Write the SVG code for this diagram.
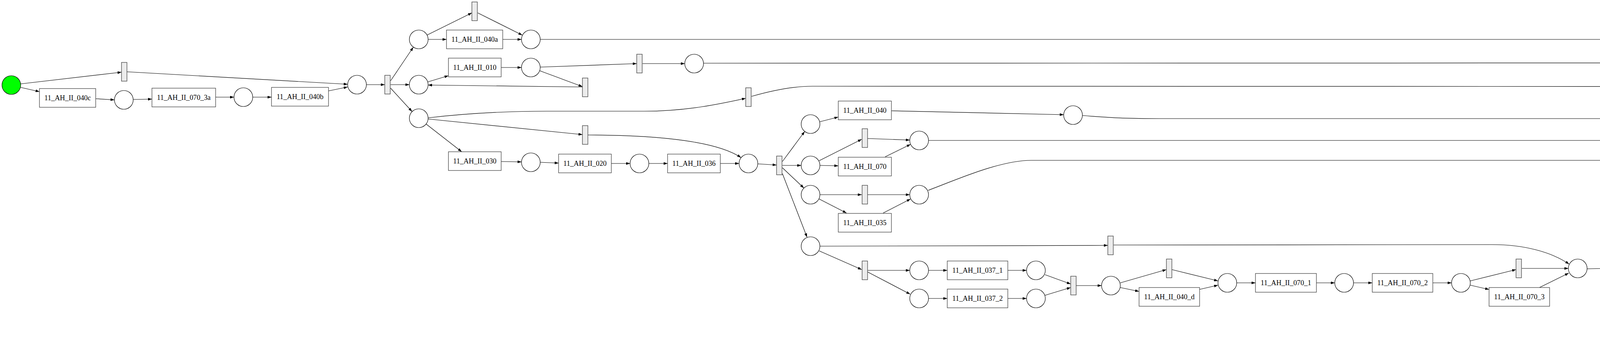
<svg xmlns="http://www.w3.org/2000/svg" width="6175" height="892" viewBox="0 0 6175 892">
<defs>
<marker id="ah" viewBox="0 0 10 7" refX="10" refY="3.5" markerWidth="10" markerHeight="7" markerUnits="userSpaceOnUse" orient="auto"><path d="M0,0 L10,3.5 L0,7 z" fill="#000"/></marker>
<style>
.e{fill:none;stroke:#000;stroke-width:1.2;marker-end:url(#ah)}
.p{fill:#fff;stroke:#000;stroke-width:1.2}
.t{fill:#ececec;stroke:#333;stroke-width:1.2}
.b{fill:#fff;stroke:#333;stroke-width:1.2}
.l{font-family:"Liberation Serif","Times New Roman",serif;font-size:18.3px;text-anchor:middle;fill:#000}
</style>
</defs>
<rect width="6175" height="892" fill="#fff"/>
<g id="connectors">
<path class="e" d="M53,215 L311,185"/>
<path class="e" d="M53,224 L101,235"/>
<path class="e" d="M325,184 L890,216"/>
<path class="e" d="M245,253 L293,256"/>
<path class="e" d="M341,255 L389,254"/>
<path class="e" d="M552,249 L599,249"/>
<path class="e" d="M647,249 L695,249"/>
<path class="e" d="M841,233 L890,223"/>
<path class="e" d="M938,217 L985,217"/>
<path class="e" d="M1000,207 L1058,121"/>
<path class="e" d="M1000,217 L1048,217"/>
<path class="e" d="M1000,226 L1055,286"/>
<path class="e" d="M1093,90 L1208,33"/>
<path class="e" d="M1096,101 L1143,101"/>
<path class="e" d="M1223,33 L1337,90"/>
<path class="e" d="M1287,101 L1335,101"/>
<path class="e" d="M1095,210 L1148,194"/>
<path class="e" d="M1283,173 L1335,173"/>
<path class="e" d="M1383,172 L1630,163"/>
<path class="e" d="M1381,181 L1491,222"/>
<path class="e" d="M1491,223 L1096,218"/>
<path class="e" d="M1645,163 L1753,163"/>
<path class="e" d="M1096,302 C1200,290 1300,285 1400,285 L1650,285 C1760,285 1850,265 1909,252"/>
<path class="e" d="M1096,305 L1491,345"/>
<path class="e" d="M1091,318 L1182,389"/>
<path class="e" d="M1283,414 L1335,415"/>
<path class="e" d="M1383,416 L1430,418"/>
<path class="e" d="M1565,419 L1613,419"/>
<path class="e" d="M1661,419 L1709,419"/>
<path class="e" d="M1844,419 L1892,419"/>
<path class="e" d="M1505,346 C1700,346 1840,365 1897,404"/>
<path class="e" d="M1940,420 L1988,423"/>
<path class="e" d="M2003,414 L2060,337"/>
<path class="e" d="M2003,424 L2051,424"/>
<path class="e" d="M2003,430 L2058,482"/>
<path class="e" d="M2003,445 L2066,608"/>
<path class="e" d="M2099,312 L2146,300"/>
<path class="e" d="M2282,284 L2723,294"/>
<path class="e" d="M2097,412 L2206,357"/>
<path class="e" d="M2099,424 L2146,425"/>
<path class="e" d="M2221,355 L2329,359"/>
<path class="e" d="M2266,402 L2331,370"/>
<path class="e" d="M2099,499 L2206,499"/>
<path class="e" d="M2097,510 L2167,546"/>
<path class="e" d="M2221,499 L2329,499"/>
<path class="e" d="M2261,546 L2331,510"/>
<path class="e" d="M2097,643 L2206,691"/>
<path class="e" d="M2099,631 L2836,629"/>
<path class="e" d="M2221,693 L2329,693"/>
<path class="e" d="M2221,697 L2330,754"/>
<path class="e" d="M2377,693 L2425,693"/>
<path class="e" d="M2580,693 L2628,693"/>
<path class="e" d="M2377,765 L2425,765"/>
<path class="e" d="M2580,765 L2628,765"/>
<path class="e" d="M2675,704 L2741,728"/>
<path class="e" d="M2675,757 L2741,737"/>
<path class="e" d="M2755,732 L2820,732"/>
<path class="e" d="M2868,725 L2986,691"/>
<path class="e" d="M2868,737 L2916,747"/>
<path class="e" d="M3000,691 L3118,720"/>
<path class="e" d="M3070,742 L3118,731"/>
<path class="e" d="M3166,725 L3214,725"/>
<path class="e" d="M3370,725 L3417,725"/>
<path class="e" d="M3465,725 L3513,725"/>
<path class="e" d="M3668,725 L3716,725"/>
<path class="e" d="M3764,720 L3881,691"/>
<path class="e" d="M3764,731 L3812,742"/>
<path class="e" d="M3896,688 L4015,688"/>
<path class="e" d="M3941,737 L4016,700"/>
<path class="e" d="M2851,628 L3820,627 C3900,627 3970,645 4017,677"/>
<path class="e" d="M4063,689 L4110,688"/>
<path class="e" d="M4125,663 L4184,566"/>
<path class="e" d="M4125,688 L4173,688"/>
<path class="e" d="M4125,692 L4180,744"/>
<path class="e" d="M4220,535 L4339,477"/>
<path class="e" d="M4221,545 L4279,545"/>
<path class="e" d="M4354,477 L4473,524"/>
<path class="e" d="M4414,539 L4472,535"/>
<path class="e" d="M4220,680 L4339,620"/>
<path class="e" d="M4221,688 L4269,688"/>
<path class="e" d="M4354,617 L4472,617"/>
<path class="e" d="M4399,664 L4473,627"/>
<path class="e" d="M4221,761 L4339,761"/>
<path class="e" d="M4220,771 L4294,809"/>
<path class="e" d="M4354,762 L4472,769"/>
<path class="e" d="M4404,809 L4474,779"/>
<path class="e" d="M4520,771 L4568,771"/>
<path class="e" d="M4583,767 L4633,731"/>
<path class="e" d="M4583,776 L4631,786"/>
<path class="e" d="M4676,708 L4796,648"/>
<path class="e" d="M4678,718 L4726,718"/>
<path class="e" d="M4811,648 L4929,677"/>
<path class="e" d="M4881,699 L4929,688"/>
<path class="e" d="M4678,791 L4796,791"/>
<path class="e" d="M4676,802 L4750,838"/>
<path class="e" d="M4811,791 L4929,791"/>
<path class="e" d="M4857,838 L4929,803"/>
<path class="e" d="M4977,682 L5025,682"/>
<path class="e" d="M4969,771 L5026,688"/>
<path class="e" d="M5040,680 L5088,668"/>
<path class="e" d="M5128,644 L5185,572"/>
<path class="e" d="M4520,535 L5041,535 C5100,535 5150,548 5184,556"/>
<path class="e" d="M4520,610 C4570,598 4610,585 4650,585 L5041,585 C5100,585 5150,574 5184,562"/>
<path class="e" d="M5199,556 L5248,538"/>
<path class="e" d="M5282,505 L5342,364"/>
<path class="e" d="M2771,296 C2850,303 2900,304 2968,304 L5193,304 C5260,304 5310,325 5342,350"/>
<path class="e" d="M2377,360 L5342,360"/>
<path class="e" d="M2376,488 C2450,460 2560,411 2640,411 L5193,411 C5260,411 5310,390 5342,368"/>
<path class="e" d="M5358,336 L5417,243"/>
<path class="e" d="M5450,209 L5501,170"/>
<path class="e" d="M1383,101 L5353,101 C5420,101 5470,130 5501,153"/>
<path class="e" d="M1801,162 L5501,161"/>
<path class="e" d="M1924,247 C1990,228 2040,221 2080,221 L5405,222"/>
<path class="e" d="M5516,161 L5564,161"/>
<path class="e" d="M5612,158 L5859,122"/>
<path class="e" d="M5612,167 L5660,177"/>
<path class="e" d="M5874,123 L6121,155"/>
<path class="e" d="M5795,193 L5843,194"/>
<path class="e" d="M5891,193 L5938,191"/>
<path class="e" d="M6073,173 L6121,162"/>
</g>
<g id="source"><circle class="p" cx="29" cy="218" r="24" fill="#00ff00" style="fill:#00ff00"/></g>
<g id="sink"><circle class="p" cx="6145" cy="157" r="24" style="fill:#ff0000"/></g>
<g id="p2"><circle class="p" cx="317" cy="256" r="24"/></g>
<g id="p3"><circle class="p" cx="623" cy="249" r="24"/></g>
<g id="p4"><circle class="p" cx="914" cy="217" r="24"/></g>
<g id="p5"><circle class="p" cx="1072" cy="101" r="24"/></g>
<g id="p6"><circle class="p" cx="1072" cy="217" r="24"/></g>
<g id="p7"><circle class="p" cx="1072" cy="303" r="24"/></g>
<g id="p8"><circle class="p" cx="1359" cy="101" r="24"/></g>
<g id="p9"><circle class="p" cx="1359" cy="173" r="24"/></g>
<g id="p10"><circle class="p" cx="1359" cy="416" r="24"/></g>
<g id="p11"><circle class="p" cx="1777" cy="163" r="24"/></g>
<g id="p12"><circle class="p" cx="1637" cy="419" r="24"/></g>
<g id="p13"><circle class="p" cx="1916" cy="419" r="24"/></g>
<g id="p14"><circle class="p" cx="2075" cy="318" r="24"/></g>
<g id="p15"><circle class="p" cx="2075" cy="424" r="24"/></g>
<g id="p16"><circle class="p" cx="2075" cy="499" r="24"/></g>
<g id="p17"><circle class="p" cx="2353" cy="360" r="24"/></g>
<g id="p18"><circle class="p" cx="2353" cy="499" r="24"/></g>
<g id="p19"><circle class="p" cx="2075" cy="631" r="24"/></g>
<g id="p20"><circle class="p" cx="2353" cy="693" r="24"/></g>
<g id="p21"><circle class="p" cx="2652" cy="693" r="24"/></g>
<g id="p22"><circle class="p" cx="2353" cy="765" r="24"/></g>
<g id="p23"><circle class="p" cx="2652" cy="765" r="24"/></g>
<g id="p24"><circle class="p" cx="2747" cy="295" r="24"/></g>
<g id="p25"><circle class="p" cx="2844" cy="732" r="24"/></g>
<g id="p26"><circle class="p" cx="3142" cy="725" r="24"/></g>
<g id="p27"><circle class="p" cx="3441" cy="725" r="24"/></g>
<g id="p28"><circle class="p" cx="3740" cy="725" r="24"/></g>
<g id="p29"><circle class="p" cx="4039" cy="688" r="24"/></g>
<g id="p30"><circle class="p" cx="4197" cy="545" r="24"/></g>
<g id="p31"><circle class="p" cx="4197" cy="688" r="24"/></g>
<g id="p32"><circle class="p" cx="4197" cy="761" r="24"/></g>
<g id="p33"><circle class="p" cx="4496" cy="534" r="24"/></g>
<g id="p34"><circle class="p" cx="4496" cy="617" r="24"/></g>
<g id="p35"><circle class="p" cx="4496" cy="771" r="24"/></g>
<g id="p36"><circle class="p" cx="4654" cy="718" r="24"/></g>
<g id="p37"><circle class="p" cx="4654" cy="791" r="24"/></g>
<g id="p38"><circle class="p" cx="5429" cy="222" r="24"/></g>
<g id="p39"><circle class="p" cx="5271" cy="529" r="24"/></g>
<g id="p40"><circle class="p" cx="4953" cy="682" r="24"/></g>
<g id="p41"><circle class="p" cx="5112" cy="664" r="24"/></g>
<g id="p42"><circle class="p" cx="4953" cy="791" r="24"/></g>
<g id="p43"><circle class="p" cx="5588" cy="161" r="24"/></g>
<g id="p44"><circle class="p" cx="5867" cy="194" r="24"/></g>
<g id="t1"><rect class="t" x="311" y="160" width="14" height="48"/></g>
<g id="t2"><rect class="t" x="985" y="193" width="14" height="48"/></g>
<g id="t3"><rect class="t" x="1208" y="5" width="14" height="48"/></g>
<g id="t4"><rect class="t" x="1491" y="200" width="14" height="48"/></g>
<g id="t5"><rect class="t" x="1630" y="139" width="14" height="48"/></g>
<g id="t6"><rect class="t" x="1909" y="225" width="14" height="48"/></g>
<g id="t7"><rect class="t" x="1491" y="322" width="14" height="48"/></g>
<g id="t8"><rect class="t" x="1988" y="400" width="14" height="48"/></g>
<g id="t9"><rect class="t" x="2207" y="330" width="14" height="48"/></g>
<g id="t10"><rect class="t" x="2207" y="475" width="14" height="48"/></g>
<g id="t11"><rect class="t" x="2207" y="669" width="14" height="48"/></g>
<g id="t12"><rect class="t" x="2836" y="605" width="14" height="48"/></g>
<g id="t13"><rect class="t" x="2741" y="708" width="14" height="48"/></g>
<g id="t14"><rect class="t" x="2986" y="664" width="14" height="48"/></g>
<g id="t15"><rect class="t" x="3881" y="664" width="14" height="48"/></g>
<g id="t16"><rect class="t" x="4111" y="664" width="14" height="48"/></g>
<g id="t17"><rect class="t" x="4339" y="449" width="14" height="48"/></g>
<g id="t18"><rect class="t" x="4339" y="593" width="14" height="48"/></g>
<g id="t19"><rect class="t" x="4339" y="737" width="14" height="48"/></g>
<g id="t20"><rect class="t" x="4568" y="747" width="14" height="48"/></g>
<g id="t21"><rect class="t" x="4796" y="622" width="14" height="48"/></g>
<g id="t22"><rect class="t" x="4796" y="767" width="14" height="48"/></g>
<g id="t23"><rect class="t" x="5343" y="336" width="14" height="48"/></g>
<g id="t24"><rect class="t" x="5184" y="535" width="14" height="48"/></g>
<g id="t25"><rect class="t" x="5025" y="658" width="14" height="48"/></g>
<g id="t26"><rect class="t" x="5860" y="98" width="14" height="48"/></g>
<g id="tjoin"><rect class="t" x="5501" y="137" width="14" height="48"/></g>
<g id="n040c"><rect class="b" x="101" y="227" width="144" height="48"/><text class="l" x="173" y="257">11_AH_II_040c</text></g>
<g id="n070_3a"><rect class="b" x="389" y="226" width="163" height="48"/><text class="l" x="470.5" y="256">11_AH_II_070_3a</text></g>
<g id="n040b"><rect class="b" x="695" y="224" width="146" height="48"/><text class="l" x="768" y="254">11_AH_II_040b</text></g>
<g id="n040a"><rect class="b" x="1143" y="77" width="144" height="48"/><text class="l" x="1215" y="107">11_AH_II_040a</text></g>
<g id="n010"><rect class="b" x="1148" y="149" width="135" height="48"/><text class="l" x="1215.5" y="179">11_AH_II_010</text></g>
<g id="n030"><rect class="b" x="1148" y="389" width="135" height="48"/><text class="l" x="1215.5" y="419">11_AH_II_030</text></g>
<g id="n020"><rect class="b" x="1430" y="395" width="135" height="48"/><text class="l" x="1497.5" y="425">11_AH_II_020</text></g>
<g id="n036"><rect class="b" x="1709" y="395" width="135" height="48"/><text class="l" x="1776.5" y="425">11_AH_II_036</text></g>
<g id="n040"><rect class="b" x="2146" y="259" width="136" height="48"/><text class="l" x="2214" y="289">11_AH_II_040</text></g>
<g id="n070"><rect class="b" x="2146" y="403" width="136" height="48"/><text class="l" x="2214" y="433">11_AH_II_070</text></g>
<g id="n035"><rect class="b" x="2146" y="547" width="136" height="48"/><text class="l" x="2214" y="577">11_AH_II_035</text></g>
<g id="n037_1"><rect class="b" x="2425" y="669" width="155" height="48"/><text class="l" x="2502.5" y="699">11_AH_II_037_1</text></g>
<g id="n037_2"><rect class="b" x="2425" y="741" width="155" height="48"/><text class="l" x="2502.5" y="771">11_AH_II_037_2</text></g>
<g id="n040_d"><rect class="b" x="2916" y="737" width="155" height="48"/><text class="l" x="2993.5" y="767">11_AH_II_040_d</text></g>
<g id="n070_1"><rect class="b" x="3214" y="701" width="156" height="48"/><text class="l" x="3292" y="731">11_AH_II_070_1</text></g>
<g id="n070_2"><rect class="b" x="3513" y="701" width="155" height="48"/><text class="l" x="3590.5" y="731">11_AH_II_070_2</text></g>
<g id="n070_3"><rect class="b" x="3812" y="737" width="155" height="48"/><text class="l" x="3889.5" y="767">11_AH_II_070_3</text></g>
<g id="n100"><rect class="b" x="4279" y="521" width="135" height="48"/><text class="l" x="4346.5" y="551">11_AH_II_100</text></g>
<g id="n020_2"><rect class="b" x="4269" y="664" width="155" height="48"/><text class="l" x="4346.5" y="694">11_AH_II_020_2</text></g>
<g id="n055"><rect class="b" x="4279" y="809" width="135" height="48"/><text class="l" x="4346.5" y="839">11_AH_II_055</text></g>
<g id="n020_1"><rect class="b" x="4726" y="694" width="155" height="48"/><text class="l" x="4803.5" y="724">11_AH_II_020_1</text></g>
<g id="n130"><rect class="b" x="4736" y="838" width="135" height="48"/><text class="l" x="4803.5" y="868">11_AH_II_130</text></g>
<g id="n140"><rect class="b" x="5660" y="168" width="135" height="48"/><text class="l" x="5727.5" y="198">11_AH_II_140</text></g>
<g id="n145"><rect class="b" x="5938" y="165" width="135" height="48"/><text class="l" x="6005.5" y="195">11_AH_II_145</text></g>
</svg>
